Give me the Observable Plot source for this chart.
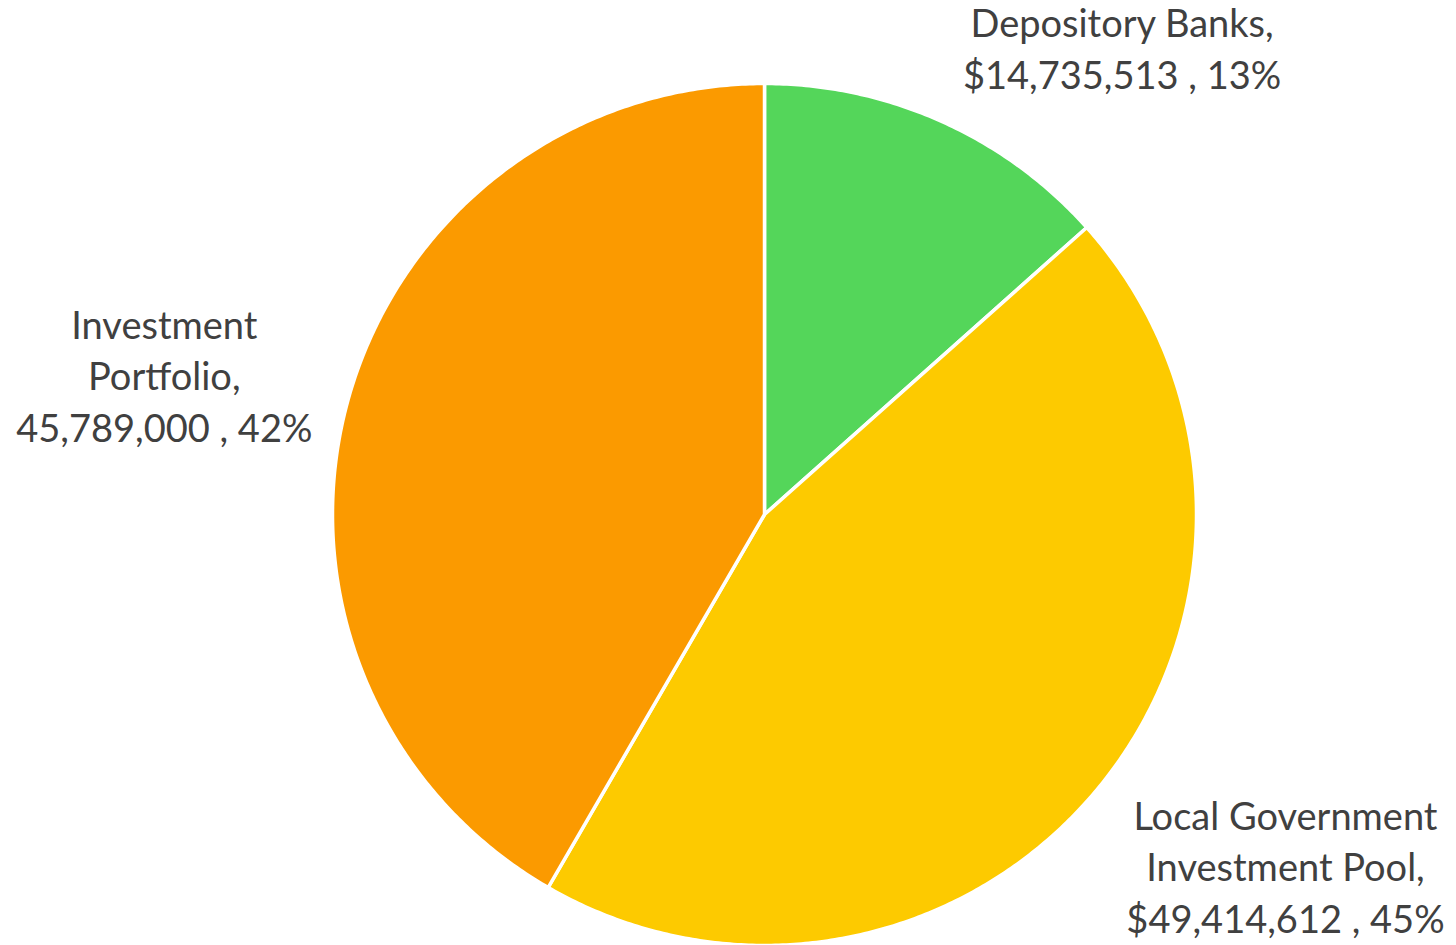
<!DOCTYPE html>
<html>
<head>
<meta charset="utf-8">
<script src="https://cdn.jsdelivr.net/npm/d3@7"></script>
<script src="https://cdn.jsdelivr.net/npm/@observablehq/plot@0.6"></script>
<style>
  html, body { margin: 0; padding: 0; background: #fff; }
  #chart svg { display: block; }
</style>
</head>
<body>
<div id="chart"></div>
<script>
const categories = ["Depository Banks", "Local Government Investment Pool", "Investment Portfolio"];
const values = [14735513, 49414612, 45789000];
const valueLabels = ["$14,735,513", "$49,414,612", "45,789,000"];
const labelNames = ["Depository Banks,", "Local Government\nInvestment Pool,", "Investment\nPortfolio,"];
const colors = ["#54D65A", "#FDCA00", "#FB9A00"];

// style-only label offsets (pixels)
const labelOffsets = [[181, -75], [186, 78], [-183, -29]];

const total = d3.sum(values);
const arcs = d3.pie().sort(null).value(d => d)(values);

// Build sector outlines from pie angles (angle 0 at top, clockwise)
const sectorPoints = [];
arcs.forEach((a, i) => {
  const n = Math.max(8, Math.ceil((a.endAngle - a.startAngle) / (Math.PI / 360)));
  sectorPoints.push({cat: categories[i], x: 0, y: 0});
  for (let k = 0; k <= n; k++) {
    const t = a.startAngle + (a.endAngle - a.startAngle) * k / n;
    sectorPoints.push({cat: categories[i], x: Math.sin(t), y: Math.cos(t)});
  }
  sectorPoints.push({cat: categories[i], x: 0, y: 0});
});

const labels = arcs.map((a, i) => {
  const m = (a.startAngle + a.endAngle) / 2;
  const pct = Math.round(values[i] / total * 100);
  return {
    x: Math.sin(m), y: Math.cos(m),
    text: `${labelNames[i]}\n${valueLabels[i]} , ${pct}%`,
    dx: labelOffsets[i][0], dy: labelOffsets[i][1]
  };
});

const chart = Plot.plot({
  width: 1456,
  height: 945,
  marginLeft: 332,
  marginRight: 260,
  marginTop: 83,
  marginBottom: 0,
  x: {domain: [-1, 1], axis: null},
  y: {domain: [-1, 1], axis: null},
  color: {domain: categories, range: colors},
  style: {fontFamily: "Lato, 'Open Sans', sans-serif", background: "#fff", overflow: "visible"},
  marks: [
    Plot.line(sectorPoints, {x: "x", y: "y", z: "cat", fill: "cat", stroke: "#fff", strokeWidth: 3.5, strokeLinejoin: "round", curve: "linear"}),
    ...labels.map(l => Plot.text([l], {x: "x", y: "y", text: "text", dx: l.dx, dy: l.dy, fontSize: 38, fill: "#404040", lineHeight: 1.36, textAnchor: "middle"}))
  ]
});
document.getElementById("chart").appendChild(chart);
</script>
</body>
</html>
